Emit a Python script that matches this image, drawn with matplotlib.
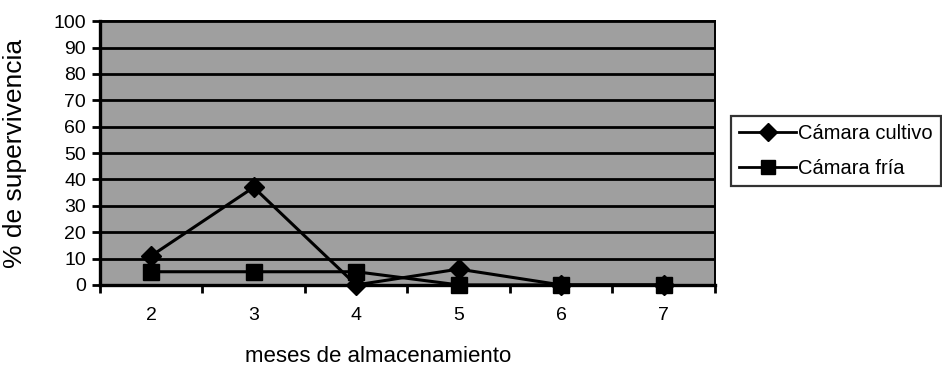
import numpy as np
import matplotlib
matplotlib.use("Agg")
import matplotlib.pyplot as plt
from matplotlib.lines import Line2D

plt.rcParams['font.family'] = ['Liberation Sans', 'DejaVu Sans']

meses = ["2", "3", "4", "5", "6", "7"]
camara_cultivo = [11, 37, 0, 6, 0, 0]
camara_fria = [5, 5, 5, 0, 0, 0]
y_ticks = [0, 10, 20, 30, 40, 50, 60, 70, 80, 90, 100]

fig = plt.figure(figsize=(9.42, 3.71), dpi=100)
ax = fig.add_axes([0.106, 0.232, 0.653, 0.711])

x = np.arange(len(meses))
ax.set_facecolor("#9f9f9f")

# horizontal reference lines every 10 %
for v in y_ticks[1:]:
    ax.axhline(v, color="black", lw=2.0, zorder=1)

ax.plot(x, camara_cultivo, color="black", lw=2.2, marker="D", ms=10.5,
        zorder=3, clip_on=False, label="Cámara cultivo")
ax.plot(x, camara_fria, color="black", lw=2.2, marker="s", ms=11.5,
        zorder=3, clip_on=False, label="Cámara fría")

ax.set_xlim(-0.5, len(meses) - 0.5)
ax.set_ylim(0, 100)
ax.set_yticks(y_ticks)
ax.set_yticklabels([str(v) for v in y_ticks], fontsize=14)
ax.set_xticks(np.arange(len(meses) + 1) - 0.5)
ax.set_xticklabels([])
ax.set_xticks(x, minor=True)
ax.set_xticklabels(meses, minor=True, fontsize=14)
ax.tick_params(axis="x", which="minor", length=0, pad=16)
ax.tick_params(axis="x", which="major", direction="out", length=6, width=2)
ax.tick_params(axis="y", direction="out", length=6, width=2, pad=4)

for side in ["left", "bottom"]:
    ax.spines[side].set_linewidth(2.4)
for side in ["top", "right"]:
    ax.spines[side].set_linewidth(1.4)

ax.set_ylabel("% de supervivencia", fontsize=19)
ax.yaxis.set_label_coords(-0.118, 0.5)
ax.set_xlabel("meses de almacenamiento", fontsize=16)
ax.xaxis.label.set_va("baseline")
ax.xaxis.set_label_coords(0.453, -0.292)

handles = [
    Line2D([], [], color="black", lw=2, marker="D", ms=9),
    Line2D([], [], color="black", lw=2, marker="s", ms=9.5),
]
leg = fig.legend(handles, ["Cámara cultivo", "Cámara fría"],
                 loc="center left", bbox_to_anchor=(0.776, 0.593),
                 fontsize=14.5, frameon=True, fancybox=False,
                 edgecolor="black", handlelength=2.85, handletextpad=0.1,
                 borderpad=0.4, labelspacing=0.75, borderaxespad=0)
leg.get_frame().set_linewidth(1.6)

fig.savefig("out.png", dpi=100, facecolor="white")
